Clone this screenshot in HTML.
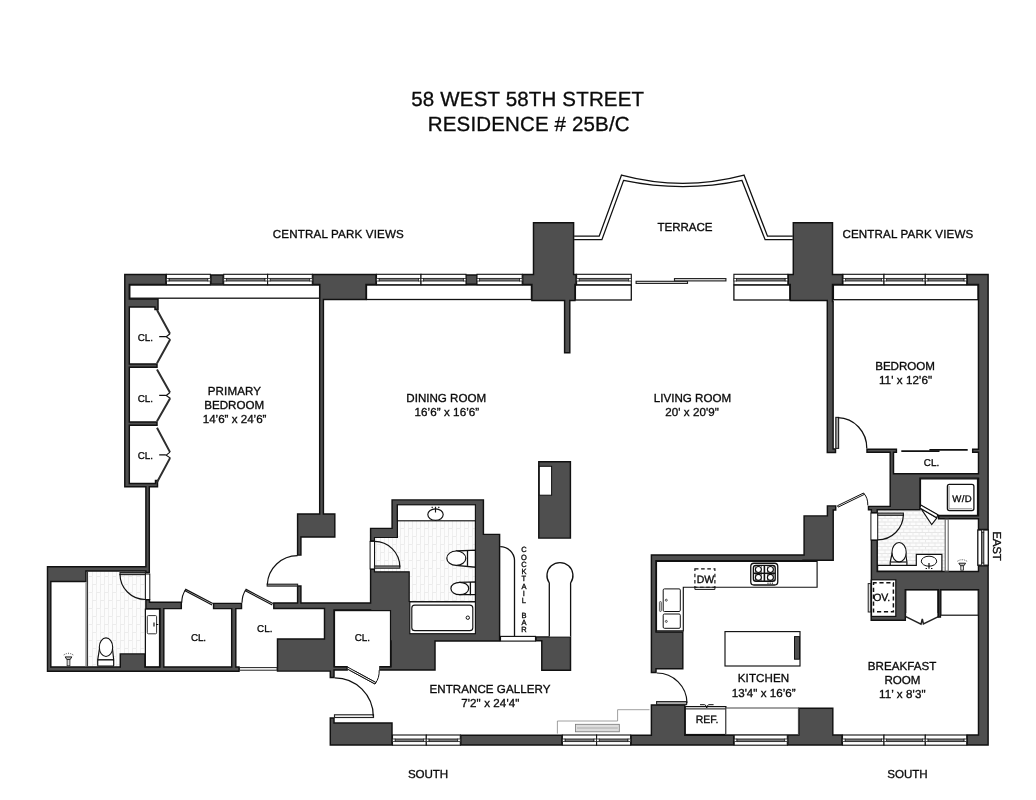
<!DOCTYPE html>
<html lang="en"><head><meta charset="utf-8"><title>58 West 58th Street - Residence 25B/C Floor Plan</title>
<style>
html,body{margin:0;padding:0;background:#fff;}
body{width:1036px;height:800px;overflow:hidden;}
svg{display:block;will-change:transform;font-family:"Liberation Sans",Arial,sans-serif;}
text{text-rendering:geometricPrecision;fill:#0a0a0a;stroke:#0a0a0a;stroke-width:0.32px;}
</style></head><body>
<svg width="1036" height="800" viewBox="0 0 1036 800">
<rect width="1036" height="800" fill="#fff"/>
<defs>
<pattern id="tile" width="8" height="16" patternUnits="userSpaceOnUse">
<rect width="8" height="16" fill="#fcfcfc"/>
<path d="M0.5 0V8M4.5 8V16M0 0.5H4M4 8.5H8" stroke="#ececec" stroke-width="1" fill="none"/>
<path d="M4.5 0V8M0.5 8V16" stroke="#f0f0f0" stroke-width="1" fill="none"/>
</pattern>
<pattern id="tileh" width="12.5" height="7" patternUnits="userSpaceOnUse">
<rect width="12.5" height="7" fill="#fcfcfc"/>
<path d="M0 0.5H12.5M0 4H12.5" stroke="#e6e6e6" stroke-width="1" fill="none"/>
<path d="M0.5 0V3.5M6.75 0V3.5M3.6 3.5V7M9.85 3.5V7" stroke="#e9e9e9" stroke-width="1" fill="none"/>
</pattern>
</defs>
<rect x="129.8" y="285" width="189.8" height="13.2" fill="#fff" stroke="#111" stroke-width="1.3" />
<rect x="366.5" y="285" width="164.9" height="14.5" fill="#fff" stroke="#111" stroke-width="1.3" />
<rect x="575.4" y="285" width="55.9" height="15" fill="#fff" stroke="#111" stroke-width="1.3" />
<rect x="733.9" y="285" width="55.9" height="15" fill="#fff" stroke="#111" stroke-width="1.3" />
<rect x="833.4" y="285" width="144.6" height="14.7" fill="#fff" stroke="#111" stroke-width="1.3" />
<rect x="87" y="571" width="58.5" height="95.5" fill="url(#tile)"/>
<path d="M397.4 520.8H475.4V601.5H409.2V571.8H374.5V537.5H397.4Z" fill="url(#tile)"/>
<rect x="877.7" y="510.2" width="68" height="60.4" fill="url(#tileh)"/>
<path d="M866.99 449.19 L866.99 452.21 L890.19 452.21 L890.19 506.39 L868.49 506.39 L868.49 509.71 L871.39 509.71 L871.39 512.61 L877.21 512.61 L877.21 509.71 L920.01 509.71 L920.01 478.31 L978.49 478.31 L978.49 515.79 L938.69 515.79 L938.69 518.81 L978.49 518.81 L978.49 529.51 L988.11 529.51 L988.11 274.49 L967.19 274.49 L967.19 284.51 L978.49 284.51 L978.49 449.19 L972.69 449.19 L972.69 452.21 L978.49 452.21 L978.49 473.79 L893.51 473.79 L893.51 452.21 L896.41 452.21 L896.41 449.19ZM871.19 580.49 L871.19 620.31 L905.31 620.31 L905.31 589.71 L938.29 589.71 L938.29 616.91 L940.41 616.91 L940.41 589.71 L978.49 589.71 L978.49 735.09 L967.19 735.09 L967.19 745.01 L988.11 745.01 L988.11 565.69 L978.49 565.69 L978.49 571.49 L877.21 571.49 L877.21 540.39 L871.39 540.39 L871.39 580.49ZM788.29 274.49 L788.29 284.51 L790.29 284.51 L790.29 300.51 L827.29 300.51 L827.29 452.51 L835.51 452.51 L835.51 449.09 L833.11 449.09 L833.11 301.49 L832.51 301.49 L832.51 284.51 L842.51 284.51 L842.51 274.49 L832.51 274.49 L832.51 222.79 L793.29 222.79 L793.29 274.49ZM787.79 735.09 L787.79 745.01 L842.01 745.01 L842.01 735.09 L832.81 735.09 L832.81 708.29 L798.89 708.29 L798.89 735.09ZM651.39 555.09 L651.39 672.51 L656.01 672.51 L656.01 668.71 L682.81 668.71 L682.81 632.09 L656.01 632.09 L656.01 560.81 L803.01 560.81 L803.01 560.31 L833.21 560.31 L833.21 509.91 L835.71 509.91 L835.71 505.89 L827.39 505.89 L827.39 515.89 L804.09 515.89 L804.09 555.09ZM631.09 735.29 L631.09 745.01 L733.71 745.01 L733.71 735.29 L684.81 735.29 L684.81 704.99 L651.39 704.99 L651.39 735.29ZM522.69 274.49 L522.69 284.51 L531.89 284.51 L531.89 300.51 L564.59 300.51 L564.59 352.71 L569.81 352.71 L569.81 300.51 L574.91 300.51 L574.91 284.51 L576.11 284.51 L576.11 274.49 L573.61 274.49 L573.61 222.79 L533.49 222.79 L533.49 274.49ZM535.99 636.89 L535.99 640.81 L541.79 640.81 L541.79 670.31 L570.51 670.31 L570.51 636.89ZM538.79 461.79 L538.79 538.11 L570.41 538.11 L570.41 461.79ZM460.79 735.29 L460.79 745.01 L561.91 745.01 L561.91 735.29ZM273.79 602.99 L273.79 608.51 L324.49 608.51 L324.49 638.99 L277.49 638.99 L277.49 671.11 L330.29 671.11 L330.29 677.51 L334.01 677.51 L334.01 670.01 L347.31 670.01 L347.31 666.89 L334.01 666.89 L334.01 609.91 L370.59 609.91 L370.59 641.01 L390.99 641.01 L390.99 666.89 L379.19 666.89 L379.19 670.01 L435.01 670.01 L435.01 641.01 L499.61 641.01 L499.61 534.39 L483.41 534.39 L483.41 499.89 L392.09 499.89 L392.09 528.39 L370.59 528.39 L370.59 540.91 L392.09 540.91 L392.09 569.39 L370.59 569.39 L370.59 602.99 L300.91 602.99 L300.91 586.09 L297.59 586.09 L297.59 602.99ZM465.69 275.09 L465.69 284.31 L477.41 284.31 L477.41 275.09ZM330.29 717.99 L330.29 745.01 L392.01 745.01 L392.01 722.99 L334.01 722.99 L334.01 717.99ZM297.59 513.99 L297.59 555.11 L300.91 555.11 L300.91 536.91 L334.81 536.91 L334.81 513.99 L323.41 513.99 L323.41 299.51 L366.01 299.51 L366.01 284.51 L376.01 284.51 L376.01 274.49 L312.79 274.49 L312.79 284.51 L319.79 284.51 L319.79 300.49 L319.69 300.49 L319.69 513.99ZM47.49 566.79 L47.49 671.21 L239.01 671.21 L239.01 667.09 L235.81 667.09 L235.81 608.61 L241.51 608.61 L241.51 603.39 L213.59 603.39 L213.59 608.61 L231.69 608.61 L231.69 667.09 L163.81 667.09 L163.81 608.61 L181.31 608.61 L181.31 602.19 L149.51 602.19 L149.51 599.89 L145.89 599.89 L145.89 608.61 L159.99 608.61 L159.99 667.09 L144.91 667.09 L144.91 653.89 L120.29 653.89 L120.29 667.09 L50.81 667.09 L50.81 581.51 L85.91 581.51 L85.91 570.91 L145.89 570.91 L145.89 572.51 L149.31 572.51 L149.31 486.81 L157.51 486.81 L157.51 480.49 L155.49 480.49 L155.49 483.49 L129.31 483.49 L129.31 425.21 L157.01 425.21 L157.01 421.99 L129.31 421.99 L129.31 367.21 L157.01 367.21 L157.01 363.99 L129.31 363.99 L129.31 307.01 L154.99 307.01 L154.99 309.51 L158.01 309.51 L158.01 298.99 L129.31 298.99 L129.31 284.51 L165.91 284.51 L165.91 274.49 L124.79 274.49 L124.79 486.81 L145.89 486.81 L145.89 566.79ZM210.89 275.09 L210.89 284.11 L223.21 284.11 L223.21 275.09Z" fill="#4f4f4f" stroke="#111" stroke-width="1.45" stroke-linejoin="miter" fill-rule="evenodd"/>
<rect x="166.4" y="274.3" width="44" height="10.4" fill="#fff" stroke="#111" stroke-width="1.1" />
<rect x="169" y="278.4" width="38.8" height="2.6" fill="#777" stroke="#222" stroke-width="0.9" />
<rect x="166.4" y="278.4" width="2.6" height="2.6" fill="#fff" stroke="#222" stroke-width="0.8" />
<rect x="207.8" y="278.4" width="2.6" height="2.6" fill="#fff" stroke="#222" stroke-width="0.8" />
<rect x="223.7" y="274.3" width="43.9" height="10.4" fill="#fff" stroke="#111" stroke-width="1.1" />
<rect x="226.3" y="278.4" width="38.7" height="2.6" fill="#777" stroke="#222" stroke-width="0.9" />
<rect x="223.7" y="278.4" width="2.6" height="2.6" fill="#fff" stroke="#222" stroke-width="0.8" />
<rect x="265" y="278.4" width="2.6" height="2.6" fill="#fff" stroke="#222" stroke-width="0.8" />
<rect x="267.6" y="274.3" width="44.7" height="10.4" fill="#fff" stroke="#111" stroke-width="1.1" />
<rect x="270.2" y="278.4" width="39.5" height="2.6" fill="#777" stroke="#222" stroke-width="0.9" />
<rect x="267.6" y="278.4" width="2.6" height="2.6" fill="#fff" stroke="#222" stroke-width="0.8" />
<rect x="309.7" y="278.4" width="2.6" height="2.6" fill="#fff" stroke="#222" stroke-width="0.8" />
<rect x="376.5" y="274.3" width="44.5" height="10.4" fill="#fff" stroke="#111" stroke-width="1.1" />
<rect x="379.1" y="278.4" width="39.3" height="2.6" fill="#777" stroke="#222" stroke-width="0.9" />
<rect x="376.5" y="278.4" width="2.6" height="2.6" fill="#fff" stroke="#222" stroke-width="0.8" />
<rect x="418.4" y="278.4" width="2.6" height="2.6" fill="#fff" stroke="#222" stroke-width="0.8" />
<rect x="421" y="274.3" width="45" height="10.4" fill="#fff" stroke="#111" stroke-width="1.1" />
<rect x="423.6" y="278.4" width="39.8" height="2.6" fill="#777" stroke="#222" stroke-width="0.9" />
<rect x="421" y="278.4" width="2.6" height="2.6" fill="#fff" stroke="#222" stroke-width="0.8" />
<rect x="463.4" y="278.4" width="2.6" height="2.6" fill="#fff" stroke="#222" stroke-width="0.8" />
<rect x="477" y="274.3" width="45.2" height="10.4" fill="#fff" stroke="#111" stroke-width="1.1" />
<rect x="479.6" y="278.4" width="40" height="2.6" fill="#777" stroke="#222" stroke-width="0.9" />
<rect x="477" y="278.4" width="2.6" height="2.6" fill="#fff" stroke="#222" stroke-width="0.8" />
<rect x="519.6" y="278.4" width="2.6" height="2.6" fill="#fff" stroke="#222" stroke-width="0.8" />
<rect x="576.6" y="274.3" width="54.7" height="10.4" fill="#fff" stroke="#111" stroke-width="1.1" />
<rect x="579.2" y="278.4" width="49.5" height="2.6" fill="#777" stroke="#222" stroke-width="0.9" />
<rect x="576.6" y="278.4" width="2.6" height="2.6" fill="#fff" stroke="#222" stroke-width="0.8" />
<rect x="628.7" y="278.4" width="2.6" height="2.6" fill="#fff" stroke="#222" stroke-width="0.8" />
<rect x="733.9" y="274.3" width="53.9" height="10.4" fill="#fff" stroke="#111" stroke-width="1.1" />
<rect x="736.5" y="278.4" width="48.7" height="2.6" fill="#777" stroke="#222" stroke-width="0.9" />
<rect x="733.9" y="278.4" width="2.6" height="2.6" fill="#fff" stroke="#222" stroke-width="0.8" />
<rect x="785.2" y="278.4" width="2.6" height="2.6" fill="#fff" stroke="#222" stroke-width="0.8" />
<rect x="843" y="274.3" width="41" height="10.4" fill="#fff" stroke="#111" stroke-width="1.1" />
<rect x="845.6" y="278.4" width="35.8" height="2.6" fill="#777" stroke="#222" stroke-width="0.9" />
<rect x="843" y="278.4" width="2.6" height="2.6" fill="#fff" stroke="#222" stroke-width="0.8" />
<rect x="881.4" y="278.4" width="2.6" height="2.6" fill="#fff" stroke="#222" stroke-width="0.8" />
<rect x="884" y="274.3" width="41.3" height="10.4" fill="#fff" stroke="#111" stroke-width="1.1" />
<rect x="886.6" y="278.4" width="36.1" height="2.6" fill="#777" stroke="#222" stroke-width="0.9" />
<rect x="884" y="278.4" width="2.6" height="2.6" fill="#fff" stroke="#222" stroke-width="0.8" />
<rect x="922.7" y="278.4" width="2.6" height="2.6" fill="#fff" stroke="#222" stroke-width="0.8" />
<rect x="925.3" y="274.3" width="41.4" height="10.4" fill="#fff" stroke="#111" stroke-width="1.1" />
<rect x="927.9" y="278.4" width="36.2" height="2.6" fill="#777" stroke="#222" stroke-width="0.9" />
<rect x="925.3" y="278.4" width="2.6" height="2.6" fill="#fff" stroke="#222" stroke-width="0.8" />
<rect x="964.1" y="278.4" width="2.6" height="2.6" fill="#fff" stroke="#222" stroke-width="0.8" />
<rect x="392.5" y="735" width="33.8" height="10.2" fill="#fff" stroke="#111" stroke-width="1.1" />
<rect x="395.1" y="739" width="28.6" height="2.6" fill="#777" stroke="#222" stroke-width="0.9" />
<rect x="392.5" y="739" width="2.6" height="2.6" fill="#fff" stroke="#222" stroke-width="0.8" />
<rect x="423.7" y="739" width="2.6" height="2.6" fill="#fff" stroke="#222" stroke-width="0.8" />
<rect x="426.3" y="735" width="34" height="10.2" fill="#fff" stroke="#111" stroke-width="1.1" />
<rect x="428.9" y="739" width="28.8" height="2.6" fill="#777" stroke="#222" stroke-width="0.9" />
<rect x="426.3" y="739" width="2.6" height="2.6" fill="#fff" stroke="#222" stroke-width="0.8" />
<rect x="457.7" y="739" width="2.6" height="2.6" fill="#fff" stroke="#222" stroke-width="0.8" />
<rect x="562.4" y="735" width="34.2" height="10.2" fill="#fff" stroke="#111" stroke-width="1.1" />
<rect x="565" y="739" width="29" height="2.6" fill="#777" stroke="#222" stroke-width="0.9" />
<rect x="562.4" y="739" width="2.6" height="2.6" fill="#fff" stroke="#222" stroke-width="0.8" />
<rect x="594" y="739" width="2.6" height="2.6" fill="#fff" stroke="#222" stroke-width="0.8" />
<rect x="596.6" y="735" width="34" height="10.2" fill="#fff" stroke="#111" stroke-width="1.1" />
<rect x="599.2" y="739" width="28.8" height="2.6" fill="#777" stroke="#222" stroke-width="0.9" />
<rect x="596.6" y="739" width="2.6" height="2.6" fill="#fff" stroke="#222" stroke-width="0.8" />
<rect x="628" y="739" width="2.6" height="2.6" fill="#fff" stroke="#222" stroke-width="0.8" />
<rect x="734.2" y="735" width="53.1" height="10.2" fill="#fff" stroke="#111" stroke-width="1.1" />
<rect x="736.8" y="739" width="47.9" height="2.6" fill="#777" stroke="#222" stroke-width="0.9" />
<rect x="734.2" y="739" width="2.6" height="2.6" fill="#fff" stroke="#222" stroke-width="0.8" />
<rect x="784.7" y="739" width="2.6" height="2.6" fill="#fff" stroke="#222" stroke-width="0.8" />
<rect x="842.5" y="735" width="41.5" height="10.2" fill="#fff" stroke="#111" stroke-width="1.1" />
<rect x="845.1" y="739" width="36.3" height="2.6" fill="#777" stroke="#222" stroke-width="0.9" />
<rect x="842.5" y="739" width="2.6" height="2.6" fill="#fff" stroke="#222" stroke-width="0.8" />
<rect x="881.4" y="739" width="2.6" height="2.6" fill="#fff" stroke="#222" stroke-width="0.8" />
<rect x="884" y="735" width="41.3" height="10.2" fill="#fff" stroke="#111" stroke-width="1.1" />
<rect x="886.6" y="739" width="36.1" height="2.6" fill="#777" stroke="#222" stroke-width="0.9" />
<rect x="884" y="739" width="2.6" height="2.6" fill="#fff" stroke="#222" stroke-width="0.8" />
<rect x="922.7" y="739" width="2.6" height="2.6" fill="#fff" stroke="#222" stroke-width="0.8" />
<rect x="925.3" y="735" width="41.4" height="10.2" fill="#fff" stroke="#111" stroke-width="1.1" />
<rect x="927.9" y="739" width="36.2" height="2.6" fill="#777" stroke="#222" stroke-width="0.9" />
<rect x="925.3" y="739" width="2.6" height="2.6" fill="#fff" stroke="#222" stroke-width="0.8" />
<rect x="964.1" y="739" width="2.6" height="2.6" fill="#fff" stroke="#222" stroke-width="0.8" />
<rect x="977.8" y="530" width="10.5" height="35.2" fill="#fff" stroke="#111" stroke-width="1.3" />
<rect x="981.6" y="532" width="2.2" height="31.2" fill="#8a8a8a" stroke="#222" stroke-width="1.0" />
<rect x="981.6" y="530" width="2.2" height="2" fill="#fff" stroke="#222" stroke-width="0.8" />
<rect x="981.6" y="563.2" width="2.2" height="2" fill="#fff" stroke="#222" stroke-width="0.8" />
<path d="M574.1 236.2H599.2L621.5 175.1Q682.75 191.5 744 175.1L767.5 236.2H792.8 M574.1 239.7H601.9L623.6 180.4Q682.75 192.8 742 180.4L765.1 239.7H792.8" fill="none" stroke="#111" stroke-width="1.3" />
<rect x="636.1" y="281.3" width="51.4" height="2.1" fill="#f2f2f2" stroke="#222" stroke-width="1.15" />
<rect x="674.5" y="278.6" width="51.4" height="2.3" fill="#f2f2f2" stroke="#222" stroke-width="1.15" />
<path d="M157 310 L170 333.75 M170 339.75 L157 363.2" fill="none" stroke="#2e2e2e" stroke-width="2.0" />
<path d="M159.2 336.55 H165.8 M170 333.75 L166.2 336.75 L170.5 339.75" fill="none" stroke="#111" stroke-width="1.15" />
<text x="145.4" y="340.6" font-size="9.9" text-anchor="middle" textLength="15.3" lengthAdjust="spacing" >CL.</text>
<path d="M157 369.5 L170 392.5 M170 398.5 L157 421.2" fill="none" stroke="#2e2e2e" stroke-width="2.0" />
<path d="M159.2 395.3 H165.8 M170 392.5 L166.2 395.5 L170.5 398.5" fill="none" stroke="#111" stroke-width="1.15" />
<text x="145.4" y="401.6" font-size="9.9" text-anchor="middle" textLength="15.3" lengthAdjust="spacing" >CL.</text>
<path d="M157 427.7 L170 452.1 M170 458.1 L157 482.2" fill="none" stroke="#2e2e2e" stroke-width="2.0" />
<path d="M159.2 454.9 H165.8 M170 452.1 L166.2 455.1 L170.5 458.1" fill="none" stroke="#111" stroke-width="1.15" />
<text x="145.4" y="459.3" font-size="9.9" text-anchor="middle" textLength="15.3" lengthAdjust="spacing" >CL.</text>
<line x1="85.9" y1="582.4" x2="85.9" y2="666.2" stroke="#999" stroke-width="1.2" />
<line x1="87.3" y1="571.4" x2="87.3" y2="666.2" stroke="#222" stroke-width="1.2" />
<rect x="145.4" y="574" width="4.4" height="25.5" fill="#fff" stroke="#111" stroke-width="1.0" />
<rect x="120" y="572.6" width="25.4" height="2" fill="#aaa" stroke="#222" stroke-width="1.15" />
<path d="M120 574 A25.4 25.4 0 0 0 145.4 599.5" fill="none" stroke="#111" stroke-width="1.2" />
<rect x="145.4" y="609.1" width="14.1" height="57.7" fill="#fff" stroke="#111" stroke-width="1.2" />
<rect x="147.3" y="615.6" width="9.3" height="18.2" fill="#fff" stroke="#333" stroke-width="1.0" rx="1"/>
<path d="M154 622.5V626.5 M156 624.5H158.3" fill="none" stroke="#111" stroke-width="1.15" />
<path d="M99.6 648 L97.7 659.8 H113.7 L112.4 648 Z" fill="#fff" stroke="#111" stroke-width="1.2" />
<rect x="97.7" y="659.8" width="16" height="6.4" fill="#fff" stroke="#111" stroke-width="1.2" rx="1"/>
<ellipse cx="106" cy="647.2" rx="6.7" ry="9.3" fill="#fff" stroke="#111" stroke-width="1.1"/>
<path d="M65.1 656.9H71.9L70.1 659.5H66.9Z" fill="#bbb" stroke="#111" stroke-width="0.9" />
<rect x="67.1" y="659.5" width="2.8" height="6.3" fill="#ddd" stroke="#222" stroke-width="0.8" />
<path d="M63.9 655.3L64.7 653.9M66.1 654.3L66.5 653.1M68.5 654.1V652.7M70.9 654.3L70.5 653.1M73.1 655.3L72.3 653.9" fill="none" stroke="#444" stroke-width="0.7" />
<path d="M212.8 603.6 L185.8 589.4 L185.1 590.8 L212.1 605" fill="#fff" stroke="#111" stroke-width="1.15" />
<path d="M185.4 590 Q181.9 595 181.7 602.8" fill="none" stroke="#111" stroke-width="1.15" />
<path d="M273 603.6 L246.1 589.4 L245.4 590.8 L272.3 605" fill="#fff" stroke="#111" stroke-width="1.15" />
<path d="M245.7 590 Q242.2 595 242 602.8" fill="none" stroke="#111" stroke-width="1.15" />
<text x="198.55" y="640.6" font-size="9.9" text-anchor="middle" textLength="15.1" lengthAdjust="spacing" >CL.</text>
<text x="264.7" y="631.5" font-size="9.9" text-anchor="middle" textLength="15.4" lengthAdjust="spacing" >CL.</text>
<rect x="239.5" y="667.6" width="37.5" height="2.6" fill="#fff" stroke="#222" stroke-width="1.0" />
<rect x="267.2" y="584.2" width="30.4" height="1.9" fill="#aaa" stroke="#222" stroke-width="1.15" />
<path d="M267.3 584.5 A30.3 30.3 0 0 1 297.6 555.6" fill="none" stroke="#111" stroke-width="1.2" />
<path d="M397.4 504.8H475.4V601.5H409.2V571.8H374.5V537.5H397.4Z" fill="url(#tile)" stroke="#111" stroke-width="1.2" />
<rect x="397.4" y="504.8" width="78" height="16" fill="#fff" stroke="#111" stroke-width="1.15" />
<ellipse cx="435.5" cy="514.6" rx="7.7" ry="5.8" fill="#fff" stroke="#111" stroke-width="1.15"/>
<path d="M435.5 506.8V512.5 M431.6 507.4H432.8 M438.2 507.4H439.4" fill="none" stroke="#111" stroke-width="1.15" />
<rect x="370.1" y="541.4" width="4.4" height="27.5" fill="#fff" stroke="#111" stroke-width="1.0" />
<rect x="374.5" y="566" width="25.3" height="2.2" fill="#aaa" stroke="#222" stroke-width="1.15" />
<path d="M374.5 541.4 A25.3 25.3 0 0 1 399.8 566.7" fill="none" stroke="#111" stroke-width="1.2" />
<path d="M456.3 551 L475.4 550.2 V567.2 L456.3 565.4 Z" fill="#fff" stroke="#111" stroke-width="1.3" />
<line x1="467.5" y1="550.7" x2="467.5" y2="565.9" stroke="#111" stroke-width="1.3" />
<ellipse cx="456.3" cy="558.2" rx="9.5" ry="7.2" fill="#fff" stroke="#111" stroke-width="1.2"/>
<path d="M459.8 582.3 L475.4 581.9 V594.5 L459.8 594.7 Z" fill="#fff" stroke="#111" stroke-width="1.3" />
<line x1="470.4" y1="582" x2="470.4" y2="595.2" stroke="#111" stroke-width="1.3" />
<ellipse cx="459.8" cy="588.5" rx="8.9" ry="6.2" fill="#fff" stroke="#111" stroke-width="1.2"/>
<rect x="409.8" y="601.9" width="65.6" height="31.8" fill="#fff" stroke="#111" stroke-width="1.15" />
<rect x="411.8" y="605.1" width="61" height="25.6" fill="#fff" stroke="#111" stroke-width="1.15" rx="3"/>
<circle cx="467.8" cy="617.7" r="1.7" fill="#fff" stroke="#111" stroke-width="1"/>
<rect x="334.5" y="610.6" width="56" height="56" fill="#fff" stroke="#111" stroke-width="1.2" />
<path d="M347.8 667.2 L375.8 682.5 L375 684 L347 668.8" fill="#fff" stroke="#111" stroke-width="1.0" />
<path d="M375.4 683.2 Q379.5 678 379.2 670" fill="none" stroke="#111" stroke-width="1.0" />
<rect x="347.8" y="666" width="31.4" height="4.6" fill="#fff" stroke="none" stroke-width="0.0" />
<path d="M347.8 667.2 L375.8 682.5 L375 684 L347 668.8Z" fill="#fff" stroke="#111" stroke-width="1.0" />
<text x="362.3" y="640.6" font-size="9.9" text-anchor="middle" textLength="15.3" lengthAdjust="spacing" >CL.</text>
<rect x="334.5" y="714.8" width="39" height="2.7" fill="#fff" stroke="#222" stroke-width="1.15" />
<path d="M334.7 677.8 A38.6 38.6 0 0 1 373.3 716.4" fill="none" stroke="#111" stroke-width="1.3" />
<path d="M500.2 546.7 A14.3 13.8 0 0 1 514.5 560.5 V636.5" fill="none" stroke="#111" stroke-width="1.3" />
<rect x="500.5" y="636.4" width="35" height="4.7" fill="#fff" stroke="#111" stroke-width="1.15" />
<path d="M549.3 636.5 V583 A13 13 0 1 1 570.6 583 V636.5" fill="#fff" stroke="#111" stroke-width="1.3" />
<text x="523.9 523.9 523.9 523.9 523.9 523.9 523.9 523.9 523.9 523.9 523.9 523.9" y="552.3 559.57 566.84 574.11 581.38 588.65 595.92 603.19 610.46 617.73 625 632.27" font-size="7.5" text-anchor="middle">COCKTAIL BAR</text>
<rect x="539.3" y="466.3" width="12.3" height="28.9" fill="#fff" stroke="#111" stroke-width="1.0" />
<path d="M557.4 733.6V721H617.6V709.7H649.5" fill="none" stroke="#888" stroke-width="0.8" />
<rect x="575.4" y="724.3" width="43.9" height="7.5" fill="#ddd" stroke="#777" stroke-width="0.8" />
<line x1="577" y1="728" x2="617.8" y2="728" stroke="#999" stroke-width="0.7" />
<path d="M656.5 561.3H817.1V587.2H683.3V630.8H656.5Z" fill="#fff" stroke="#111" stroke-width="1.15" />
<rect x="694.9" y="568.9" width="20" height="18.3" fill="none" stroke="#111" stroke-width="1.15" stroke-dasharray="3.6 2.6"/>
<path d="M694.9 587.2V589.4H714.9V587.2" fill="none" stroke="#111" stroke-width="1.0" />
<text x="705.4" y="583.2" font-size="10.5" text-anchor="middle" textLength="17.4" lengthAdjust="spacing" >DW</text>
<rect x="750.75" y="563.25" width="27" height="21.75" fill="#fff" stroke="#111" stroke-width="1.3" rx="3.2"/>
<rect x="753.4" y="565.4" width="21.8" height="15.8" fill="#fff" stroke="#111" stroke-width="1.4" rx="2.5"/>
<circle cx="758.4" cy="569.5" r="3" fill="#fff" stroke="#111" stroke-width="1.15"/>
<path d="M754.8 566.3L756.2 567.5M762 572.7L760.6 571.5" fill="none" stroke="#111" stroke-width="0.7" />
<path d="M762 566.3L760.6 567.5M754.8 572.7L756.2 571.5" fill="none" stroke="#111" stroke-width="0.7" />
<circle cx="758.4" cy="577.4" r="3" fill="#fff" stroke="#111" stroke-width="1.15"/>
<path d="M754.8 574.2L756.2 575.4M762 580.6L760.6 579.4" fill="none" stroke="#111" stroke-width="0.7" />
<path d="M762 574.2L760.6 575.4M754.8 580.6L756.2 579.4" fill="none" stroke="#111" stroke-width="0.7" />
<circle cx="770.4" cy="569.5" r="3" fill="#fff" stroke="#111" stroke-width="1.15"/>
<path d="M766.8 566.3L768.2 567.5M774 572.7L772.6 571.5" fill="none" stroke="#111" stroke-width="0.7" />
<path d="M774 566.3L772.6 567.5M766.8 572.7L768.2 571.5" fill="none" stroke="#111" stroke-width="0.7" />
<circle cx="770.4" cy="577.4" r="3" fill="#fff" stroke="#111" stroke-width="1.15"/>
<path d="M766.8 574.2L768.2 575.4M774 580.6L772.6 579.4" fill="none" stroke="#111" stroke-width="0.7" />
<path d="M774 574.2L772.6 575.4M766.8 580.6L768.2 579.4" fill="none" stroke="#111" stroke-width="0.7" />
<path d="M764.4 565.4V581.2" fill="none" stroke="#111" stroke-width="1.6" />
<path d="M753.4 573.3H775.2" fill="none" stroke="#111" stroke-width="1.4" />
<path d="M767.4 583.2H768.6M769.6 583.2H770.8M771.8 583.2H773" fill="none" stroke="#111" stroke-width="1" />
<rect x="663.2" y="588.9" width="17.1" height="22.6" fill="#fff" stroke="#111" stroke-width="1.0" rx="1.2"/>
<rect x="663.2" y="614" width="17.1" height="14.3" fill="#fff" stroke="#111" stroke-width="1.0" rx="1.2"/>
<circle cx="666.3" cy="600.2" r="1" fill="#fff" stroke="#111" stroke-width="0.7"/>
<circle cx="666.3" cy="621.4" r="1" fill="#fff" stroke="#111" stroke-width="0.7"/>
<rect x="659.4" y="601.5" width="2" height="10" fill="#ccc" stroke="#333" stroke-width="0.7" rx="1"/>
<rect x="725" y="631.6" width="75" height="34.4" fill="#fff" stroke="#111" stroke-width="1.15" />
<rect x="794.5" y="636.6" width="5" height="22.6" fill="#4f4f4f" stroke="#111" stroke-width="1.0" />
<rect x="656.6" y="701.6" width="30" height="3" fill="#aaa" stroke="#222" stroke-width="1.1" />
<path d="M656.8 673 A30.2 30.2 0 0 1 687 703.2" fill="none" stroke="#111" stroke-width="1.2" />
<rect x="685.3" y="706.6" width="40.6" height="27.9" fill="#fff" stroke="#111" stroke-width="1.2" />
<line x1="685.3" y1="708.9" x2="725.9" y2="708.9" stroke="#111" stroke-width="1" />
<rect x="725.9" y="708" width="72.5" height="26.6" fill="#fff" stroke="#444" stroke-width="1.0" />
<text x="707.05" y="722.9" font-size="10.5" text-anchor="middle" textLength="22.7" lengthAdjust="spacing" >REF.</text>
<path d="M700 704.7H704.6Q706.4 705 706.6 708 M713.6 704.7H708.8Q707 705 706.8 708" fill="none" stroke="#111" stroke-width="1.0" />
<rect x="835.8" y="417.4" width="2.8" height="31" fill="#aaa" stroke="#222" stroke-width="1.15" />
<path d="M838 417.6 A29.5 30.5 0 0 1 866.8 448.6" fill="none" stroke="#111" stroke-width="1.3" />
<line x1="901.3" y1="451.1" x2="939.5" y2="451.1" stroke="#111" stroke-width="1.6" />
<line x1="929.4" y1="449.9" x2="967.7" y2="449.9" stroke="#111" stroke-width="1.6" />
<text x="931.5" y="466.4" font-size="9.9" text-anchor="middle" textLength="15.5" lengthAdjust="spacing" >CL.</text>
<path d="M920.5 478.8H977.5V515.3H938.2L920.5 505.2Z" fill="#fff" stroke="#111" stroke-width="1.2" />
<rect x="947.4" y="484.4" width="26.5" height="26.2" fill="#fff" stroke="#111" stroke-width="1.3" rx="2"/>
<path d="M949 486V508.8H972" fill="none" stroke="#888" stroke-width="1.0" />
<text x="962" y="501.6" font-size="9.6" text-anchor="middle" textLength="19.3" lengthAdjust="spacing" >W/D</text>
<path d="M921 508.6 L931.7 524.6 L936.9 517.8 Z" fill="#fff" stroke="#111" stroke-width="1.15" />
<path d="M920.8 505 L937.9 514.8 L936.7 517.8 L919.9 508 Z" fill="#fff" stroke="#111" stroke-width="1.15" />
<rect x="870.9" y="513.1" width="6.8" height="26.8" fill="#fff" stroke="#111" stroke-width="1.0" />
<rect x="877.7" y="513.1" width="25.7" height="2.2" fill="#aaa" stroke="#222" stroke-width="1.15" />
<path d="M903.4 514.6 A25.7 25.7 0 0 1 877.7 539.9" fill="none" stroke="#111" stroke-width="1.2" />
<rect x="945.2" y="519.3" width="3" height="51.7" fill="#fff" stroke="#666" stroke-width="1.15" />
<path d="M877.6 565.3H916.3V554.4H941.9V571H877.6Z" fill="#fff" stroke="#111" stroke-width="1.2" />
<path d="M892.2 553 L890.2 562 V565.3 H906.9 V562 L905.6 553 Z" fill="#fff" stroke="#111" stroke-width="1.2" />
<line x1="890.6" y1="562" x2="906.6" y2="562" stroke="#111" stroke-width="1.15" />
<ellipse cx="899.1" cy="552.2" rx="7.1" ry="9.7" fill="#fff" stroke="#111" stroke-width="1.1"/>
<ellipse cx="929" cy="561.2" rx="7.7" ry="5" fill="#fff" stroke="#111" stroke-width="1"/>
<path d="M929 563V568.8 M925.6 568.5H927 M931 568.5H932.4" fill="none" stroke="#111" stroke-width="1.2" />
<path d="M958.8 563.2H965.6L963.8 565.8H960.6Z" fill="#bbb" stroke="#111" stroke-width="0.9" />
<rect x="960.8" y="565.8" width="2.8" height="4.4" fill="#ddd" stroke="#222" stroke-width="0.8" />
<path d="M957.6 561.6L958.4 560.2M959.8 560.6L960.2 559.4M962.2 560.4V559M964.6 560.6L964.2 559.4M966.8 561.6L966 560.2" fill="none" stroke="#444" stroke-width="0.7" />
<rect x="871.5" y="579.8" width="24.3" height="36.6" fill="#fff" stroke="#111" stroke-width="1.2" />
<rect x="873.5" y="582.8" width="19.9" height="29" fill="none" stroke="#111" stroke-width="1.5" stroke-dasharray="4.2 2.7" stroke-dashoffset="1"/>
<rect x="868.2" y="583.6" width="2.5" height="28.4" fill="#ddd" stroke="#222" stroke-width="1.0" />
<text x="881.7" y="600.8" font-size="10.5" text-anchor="middle" textLength="17" lengthAdjust="spacing" >OV.</text>
<rect x="905.8" y="590" width="32" height="27" fill="#fff" stroke="#111" stroke-width="1.2" />
<rect x="940.9" y="590" width="37.3" height="25.2" fill="#fff" stroke="#111" stroke-width="1.2" />
<rect x="906.4" y="613" width="30.8" height="5" fill="#fff" stroke="none" stroke-width="0.0" />
<path d="M905.8 616.6 L921 624.2 L922.3 618.9 L923.4 624 L938.4 616.7" fill="none" stroke="#222" stroke-width="1.5" stroke-linejoin="miter"/>
<path d="M837.5 505.7 L863.6 493 L864.3 494.4 L838.2 507.1Z" fill="#fff" stroke="#111" stroke-width="1.0" />
<path d="M864 493.6 Q868 498 867.8 505.4" fill="none" stroke="#111" stroke-width="1.0" />
<text x="527.7" y="105.5" font-size="20.5" text-anchor="middle" textLength="232.8" lengthAdjust="spacing" >58 WEST 58TH STREET</text>
<text x="528.7" y="130.9" font-size="20.5" text-anchor="middle" textLength="201.8" lengthAdjust="spacing" >RESIDENCE # 25B/C</text>
<text x="338.3" y="238.1" font-size="11.6" text-anchor="middle" textLength="131" lengthAdjust="spacing" >CENTRAL PARK VIEWS</text>
<text x="907.85" y="237.9" font-size="11.6" text-anchor="middle" textLength="130.9" lengthAdjust="spacing" >CENTRAL PARK VIEWS</text>
<text x="685" y="230.7" font-size="11.6" text-anchor="middle" textLength="55" lengthAdjust="spacing" >TERRACE</text>
<text x="234.4" y="394.9" font-size="11.6" text-anchor="middle" textLength="53.3" lengthAdjust="spacing" >PRIMARY</text>
<text x="234.2" y="409.3" font-size="11.6" text-anchor="middle" textLength="59.8" lengthAdjust="spacing" >BEDROOM</text>
<text x="234.6" y="423.2" font-size="11.6" text-anchor="middle" textLength="63.7" lengthAdjust="spacing" >14&#8217;6&#8221; x 24&#8217;6&#8221;</text>
<text x="446.25" y="401.5" font-size="11.6" text-anchor="middle" textLength="79.9" lengthAdjust="spacing" >DINING ROOM</text>
<text x="446.85" y="415.8" font-size="11.6" text-anchor="middle" textLength="64.7" lengthAdjust="spacing" >16&#8217;6&#8221; x 16&#8217;6&#8221;</text>
<text x="692.45" y="401.5" font-size="11.6" text-anchor="middle" textLength="77.5" lengthAdjust="spacing" >LIVING ROOM</text>
<text x="692.1" y="415.9" font-size="11.6" text-anchor="middle" textLength="53.5" lengthAdjust="spacing" >20' x 20'9&quot;</text>
<text x="905.05" y="369.8" font-size="11.6" text-anchor="middle" textLength="59.7" lengthAdjust="spacing" >BEDROOM</text>
<text x="905.5" y="384.1" font-size="11.6" text-anchor="middle" textLength="53.2" lengthAdjust="spacing" >11' x 12'6&quot;</text>
<text x="489.95" y="692.6" font-size="11.6" text-anchor="middle" textLength="120.9" lengthAdjust="spacing" >ENTRANCE GALLERY</text>
<text x="490.3" y="706.8" font-size="11.6" text-anchor="middle" textLength="58.1" lengthAdjust="spacing" >7'2&quot; x 24'4&quot;</text>
<text x="763.45" y="682.4" font-size="11.6" text-anchor="middle" textLength="51.3" lengthAdjust="spacing" >KITCHEN</text>
<text x="763.65" y="696.5" font-size="11.6" text-anchor="middle" textLength="63.9" lengthAdjust="spacing" >13'4&quot; x 16&#8217;6&#8221;</text>
<text x="902.1" y="670.2" font-size="11.6" text-anchor="middle" textLength="68.6" lengthAdjust="spacing" >BREAKFAST</text>
<text x="902.4" y="684.1" font-size="11.6" text-anchor="middle" textLength="35.8" lengthAdjust="spacing" >ROOM</text>
<text x="902.3" y="698.4" font-size="11.6" text-anchor="middle" textLength="46.6" lengthAdjust="spacing" >11&#8217; x 8'3&quot;</text>
<text x="428" y="777.8" font-size="11.6" text-anchor="middle" textLength="40.2" lengthAdjust="spacing" >SOUTH</text>
<text x="907.45" y="777.8" font-size="11.6" text-anchor="middle" textLength="40.2" lengthAdjust="spacing" >SOUTH</text>
<text transform="translate(993.1 531.2) rotate(90)" font-size="11.6" textLength="29.6" lengthAdjust="spacing">EAST</text>
</svg>
</body></html>
